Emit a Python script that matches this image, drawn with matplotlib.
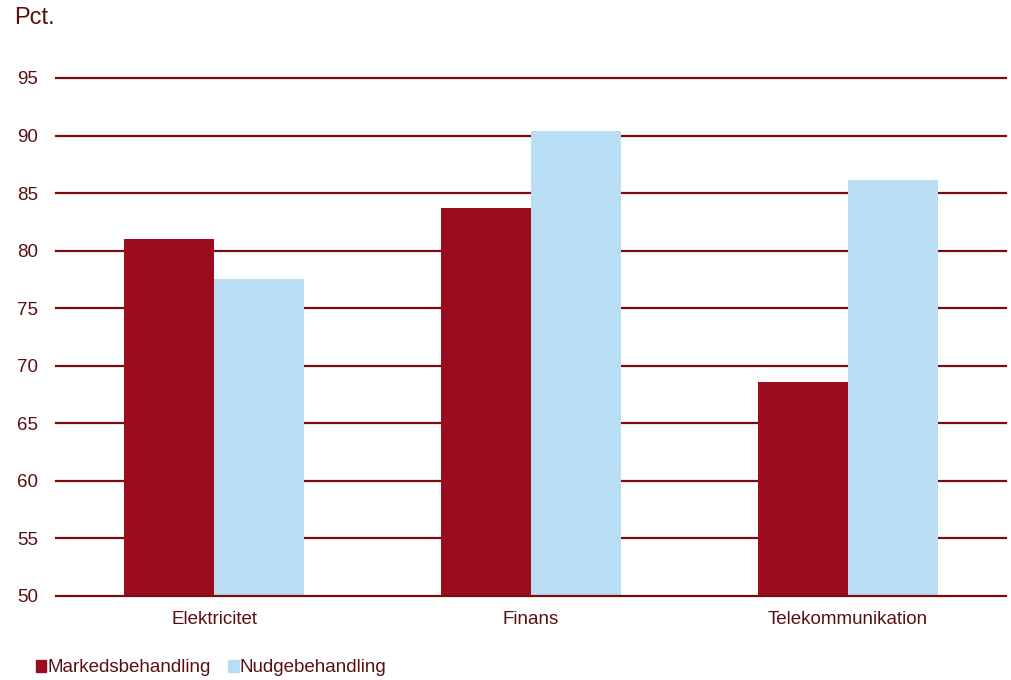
import matplotlib
matplotlib.use("Agg")
import matplotlib.pyplot as plt
from matplotlib.patches import Patch
import numpy as np

plt.rcParams['font.family'] = ['Liberation Sans', 'DejaVu Sans']

categories = ["Elektricitet", "Finans", "Telekommunikation"]
markeds = [81.0, 83.7, 68.6]
nudge = [77.5, 90.4, 86.1]
series_names = ["Markedsbehandling", "Nudgebehandling"]
yticks = [50, 55, 60, 65, 70, 75, 80, 85, 90, 95]

red = "#9b0c1e"
blue = "#b9ddf3"
grid_col = "#7a0c0c"
text_col = "#5a1010"

fig = plt.figure(figsize=(10.12, 6.8), dpi=100)
ax = fig.add_axes([56/1012, 1 - 596/680, 950/1012, (596 - 60)/680])

x = np.arange(len(categories))
w = 0.284
ax.bar(x - w/2, np.array(markeds) - 50, w, bottom=50, color=red, zorder=3)
ax.bar(x + w/2, np.array(nudge) - 50, w, bottom=50, color=blue, zorder=3)

ax.set_xlim(-0.5, 2.5)
ax.set_ylim(50, 96.56)
ax.set_yticks(yticks)
for t in yticks:
    ax.axhline(t, color=grid_col, lw=1.6, zorder=1 if t > 50 else 4, clip_on=False)

ax.set_xticks(x)
ax.set_xticklabels(categories)
ax.tick_params(axis='both', length=0, labelsize=13.5, colors=text_col)
ax.tick_params(axis='y', pad=13)
ax.tick_params(axis='x', pad=11)
for s in ax.spines.values():
    s.set_visible(False)

fig.text(14/1012, 1 - 18/680, "Pct.", fontsize=17, color=text_col, va='center', ha='left')

handles = [Patch(color=red), Patch(color=blue)]
fig.legend(handles, series_names, loc='center left', bbox_to_anchor=(36/1012, 1 - 668/680),
           frameon=False, fontsize=13.5, labelcolor=text_col, handlelength=0.55,
           handleheight=0.55, handletextpad=0.05, columnspacing=0.95, ncol=2,
           borderaxespad=0, borderpad=0)

fig.savefig("out.png", dpi=100, facecolor="white")
